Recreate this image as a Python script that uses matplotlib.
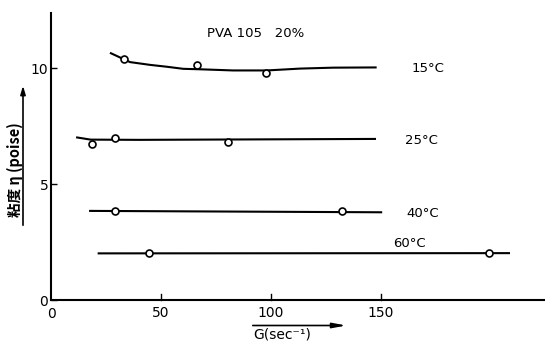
import matplotlib
matplotlib.use("Agg")
import matplotlib.pyplot as plt

plt.rcParams['font.family'] = ['DejaVu Sans']

# marker (measured) points
x15 = [33.2, 66.4, 97.7]
y15 = [10.42, 10.16, 9.80]
x25 = [18.6, 29.1, 80.5]
y25 = [6.76, 6.98, 6.81]
x40 = [29.1, 132.3]
y40 = [3.84, 3.84]
x60 = [44.5, 199.0]
y60 = [2.03, 2.04]

# drawn curves
cx15 = [26.8, 35.9, 45.0, 52.6, 60.1, 67.7, 82.7, 98.0, 113.2, 128.2, 148.0]
cy15 = [10.67, 10.27, 10.15, 10.07, 9.98, 9.96, 9.91, 9.91, 9.99, 10.03, 10.04]
cx25 = [11.4, 18.0, 40.0, 147.7]
cy25 = [7.03, 6.93, 6.92, 6.96]
cx40 = [17.3, 150.5]
cy40 = [3.86, 3.80]
cx60 = [21.2, 208.6]
cy60 = [2.03, 2.04]

labels = ["15°C", "25°C", "40°C", "60°C"]
label_x = [164, 161, 161.4, 155.5]
label_y = [9.99, 6.89, 3.76, 2.47]

xticks = [50, 100, 150]
yticks = [0, 5, 10]

fig = plt.figure(figsize=(5.45, 3.45), dpi=100)
ax = fig.add_axes([0.0936, 0.129, 0.9064, 0.833])
ax.set_xlim(0, 224.5)
ax.set_ylim(0, 12.38)

for cx, cy in [(cx15, cy15), (cx25, cy25), (cx40, cy40), (cx60, cy60)]:
    ax.plot(cx, cy, color='black', lw=1.5, solid_capstyle='butt',
            solid_joinstyle='round', zorder=2)
for mx, my in [(x15, y15), (x25, y25), (x40, y40), (x60, y60)]:
    ax.plot(mx, my, ls='none', marker='o', ms=5, mfc='white', mec='black',
            mew=1.2, zorder=3)

for t, lx, ly in zip(labels, label_x, label_y):
    ax.text(lx, ly, t, fontsize=9.5, va='center', ha='left')

ax.text(71, 11.49, "PVA 105   20%", fontsize=9.5, va='center', ha='left')

for s in ['top', 'right']:
    ax.spines[s].set_visible(False)
for s in ['left', 'bottom']:
    ax.spines[s].set_linewidth(1.5)

ax.set_xticks(xticks)
ax.set_yticks(yticks)
ax.set_yticklabels([str(v) for v in yticks])
ax.tick_params(direction='in', length=4, width=1, labelsize=10, pad=3)
ax.tick_params(axis='x', length=0, pad=4)
ax.tick_params(axis='y', pad=2)
# small upward ticks on x-axis
for xt in xticks:
    ax.plot([xt, xt], [0, 0.3], color='black', lw=1, clip_on=False)
ax.text(0, -0.3, "0", fontsize=10, ha='center', va='top')
ax.set_xticklabels([str(v) for v in xticks])

# y label with arrow
fig.text(15 / 545, 1 - 170 / 345, "粘度 η (poise)", rotation=90,
         fontsize=10.5, ha='center', va='center', fontweight='bold',
         family=['Noto Sans CJK JP', 'DejaVu Sans'])
fig.add_artist(matplotlib.patches.FancyArrowPatch(
    (23 / 545, 1 - 228 / 345), (23 / 545, 1 - 83 / 345),
    transform=fig.transFigure, arrowstyle='-|>,head_length=5,head_width=1.5',
    color='black', lw=1.2))

# x label with arrow
fig.text(282 / 545, 1 - 335 / 345, "G(sec⁻¹)", fontsize=10,
         ha='center', va='center')
fig.add_artist(matplotlib.patches.FancyArrowPatch(
    (250 / 545, 1 - 325.5 / 345), (349 / 545, 1 - 325.5 / 345),
    transform=fig.transFigure, arrowstyle='-|>,head_length=8,head_width=1.5',
    color='black', lw=1.2))

fig.savefig("out.png", dpi=100)
